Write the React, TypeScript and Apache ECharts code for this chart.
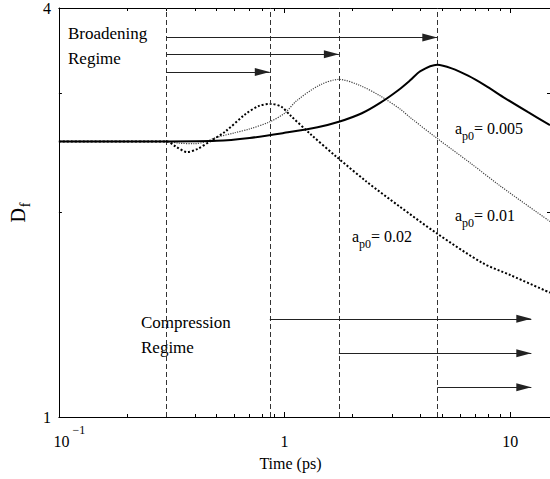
import React, { useEffect, useRef } from 'react';
import * as echarts from 'echarts';

// ---- data ----
const timeA005 = [0.1, 0.3, 0.5, 0.7, 1.0, 1.4, 1.74, 2.2, 2.65, 3.2, 3.6, 4.0, 4.75, 5.5, 6.5, 7.7, 9.5, 12, 15];
const dfA005 = [2.545, 2.545, 2.55, 2.575, 2.62, 2.67, 2.72, 2.8, 2.9, 3.03, 3.13, 3.23, 3.3, 3.26, 3.18, 3.08, 2.945, 2.81, 2.69];

const timeA01 = [0.1, 0.3, 0.34, 0.4, 0.45, 0.5, 0.6, 0.7, 0.86, 1.0, 1.13, 1.43, 1.74, 2.14, 2.65, 3.25, 3.6, 4.75, 6.6, 9.0, 15];
const dfA01 = [2.545, 2.545, 2.53, 2.525, 2.545, 2.58, 2.62, 2.655, 2.72, 2.8, 2.92, 3.08, 3.14, 3.08, 2.97, 2.84, 2.76, 2.57, 2.37, 2.19, 1.94];

const timeA02 = [0.1, 0.3, 0.33, 0.37, 0.41, 0.467, 0.545, 0.67, 0.77, 0.87, 0.97, 1.06, 1.3, 1.7, 2.31, 3.24, 4.72, 7.55, 10, 15];
const dfA02 = [2.545, 2.545, 2.5, 2.455, 2.48, 2.545, 2.63, 2.79, 2.87, 2.89, 2.86, 2.78, 2.61, 2.415, 2.22, 2.04, 1.864, 1.685, 1.618, 1.524];

const markerTimes = [0.3, 0.86, 1.74, 4.75];

const broadeningStart = 0.3;
const broadeningEnds = [4.75, 1.74, 0.86];
const broadeningY = [3.62, 3.42, 3.22];

const compressionStarts = [0.86, 1.74, 4.75];
const compressionEnd = 12.4;
const compressionY = [1.395, 1.241, 1.106];

const seriesLabels = ['a_p0= 0.005', 'a_p0= 0.01', 'a_p0= 0.02'];

const xMin = 0.1;
const xMax = 15;
const yMin = 1;
const yMax = 4;

// ---- styling ----
const serif = 'Liberation Serif';

const zip = (xs: number[], ys: number[]) => xs.map((x, i) => [x, ys[i]]);

const xLabelRich = {
  b: { fontFamily: serif, fontSize: 16, lineHeight: 18, padding: [8, 0, 0, 0], color: '#000' },
  sup: { fontFamily: serif, fontSize: 12, lineHeight: 12, padding: [0, 0, 14, 3], color: '#000' },
  sp: { fontFamily: serif, fontSize: 16, lineHeight: 18, width: 21, padding: [8, 0, 0, 0] },
};

const xFormatter = (v: number) => {
  if (v < 0.5) return '{sp| }{b|10}{sup|−1}';
  if (v < 5) return '{b|1}';
  return '{b|10}';
};

const subRich = {
  a: { fontFamily: serif, fontSize: 16, lineHeight: 16, padding: [0, 0, 8, 0], color: '#000' },
  s: { fontFamily: serif, fontSize: 12, lineHeight: 12, padding: [10, 0, 2, 0], color: '#000' },
  t: { fontFamily: serif, fontSize: 16, lineHeight: 16, padding: [0, 0, 8, 0], color: '#000' },
};

const subText = (s: string) => {
  const m = s.match(/^a_p0(.*)$/);
  return `{a|a}{s|p0}{t|${m ? m[1] : s}}`;
};

const baseX = {
  type: 'log',
  logBase: 10,
  min: xMin,
  max: xMax,
  gridIndex: 0,
  axisLine: { show: true, onZero: false, lineStyle: { color: '#000', width: 1 } },
  axisTick: { show: true, inside: true, length: 5, lineStyle: { color: '#000', width: 1 } },
  minorTick: { show: true, splitNumber: 9, length: 3, lineStyle: { color: '#000', width: 1 } },
  splitLine: { show: false },
  minorSplitLine: { show: false },
};

const baseY = {
  type: 'log',
  logBase: 10,
  min: yMin,
  max: yMax,
  gridIndex: 0,
  axisLine: { show: true, onZero: false, lineStyle: { color: '#000', width: 1 } },
  axisTick: { show: true, inside: true, length: 3, lineStyle: { color: '#000', width: 1 } },
  minorTick: { show: true, splitNumber: 9, length: 3, lineStyle: { color: '#000', width: 1 } },
  splitLine: { show: false },
  minorSplitLine: { show: false },
};

const textEl = (text: string, x: number, y: number) => ({
  type: 'text',
  x,
  y,
  silent: true,
  style: {
    text,
    fontFamily: serif,
    fontSize: 17,
    fill: '#000',
    align: 'left',
    verticalAlign: 'middle',
  },
});

const richEl = (text: string, x: number, y: number) => ({
  type: 'text',
  x,
  y,
  silent: true,
  style: {
    text: subText(text),
    rich: subRich,
    fontFamily: serif,
    fontSize: 16,
    fill: '#000',
    align: 'left',
    verticalAlign: 'top',
  },
});

const arrowEnd = (t: number, y: number) => ({
  coord: [t, y],
  symbol: 'triangle',
  symbolSize: [8, 15],
  symbolOffset: [0, 7.5],
  itemStyle: { color: '#000' },
});

const arrowStart = (t: number, y: number) => ({
  coord: [t, y],
  symbol: 'none',
});

const option = {
  animation: false,
  backgroundColor: '#fff',
  grid: { left: 58, right: 0, top: 5, bottom: 62, containLabel: false },
  xAxis: [
    {
      ...baseX,
      position: 'bottom',
      axisLabel: {
        show: true,
        showMaxLabel: false,
        margin: 11,
        formatter: xFormatter,
        rich: xLabelRich,
        color: '#000',
      },
      name: 'Time (ps)',
      nameLocation: 'middle',
      nameGap: 38,
      nameTextStyle: { fontFamily: serif, fontSize: 16, color: '#000', padding: [0, 28, 0, 0] },
    },
    { ...baseX, position: 'top', axisLabel: { show: false } },
  ],
  yAxis: [
    {
      ...baseY,
      position: 'left',
      axisLabel: {
        show: true,
        margin: 8,
        fontFamily: serif,
        fontSize: 16,
        color: '#000',
        formatter: (v: number) => String(Math.round(v)),
      },
      name: '{d|D}{f|f}',
      nameLocation: 'middle',
      nameRotate: 90,
      nameGap: 25,
      nameTextStyle: {
        rich: {
          d: { fontFamily: serif, fontSize: 20, lineHeight: 22, padding: [0, 0, 4, 0], color: '#000' },
          f: { fontFamily: serif, fontSize: 14, lineHeight: 16, padding: [10, 0, 0, 1], color: '#000' },
        },
      },
    },
    { ...baseY, position: 'right', axisLabel: { show: false } },
  ],
  series: [
    {
      name: seriesLabels[0],
      type: 'line',
      xAxisIndex: 0,
      yAxisIndex: 0,
      data: zip(timeA005, dfA005),
      showSymbol: false,
      symbol: 'none',
      smooth: 0.3,
      lineStyle: { color: '#000', width: 2, type: 'solid' },
      z: 5,
      markLine: {
        silent: true,
        symbol: ['none', 'none'],
        label: { show: false },
        lineStyle: { type: [5, 3], color: '#333', width: 1 },
        emphasis: { disabled: true },
        data: markerTimes.map((t) => ({ xAxis: t })),
      },
    },
    {
      name: seriesLabels[1],
      type: 'line',
      xAxisIndex: 0,
      yAxisIndex: 0,
      data: zip(timeA01, dfA01),
      showSymbol: false,
      symbol: 'none',
      smooth: 0.3,
      lineStyle: { color: '#444', width: 1.2, type: 'dotted' },
      z: 4,
      markLine: {
        silent: true,
        symbol: ['none', 'triangle'],
        symbolSize: 12,
        label: { show: false },
        lineStyle: { type: 'solid', color: '#222', width: 1 },
        itemStyle: { color: '#000' },
        emphasis: { disabled: true },
        data: [
          ...broadeningEnds.map((e, i) => [
            arrowStart(broadeningStart, broadeningY[i]),
            arrowEnd(e, broadeningY[i]),
          ]),
          ...compressionStarts.map((s, i) => [
            arrowStart(s, compressionY[i]),
            arrowEnd(compressionEnd, compressionY[i]),
          ]),
        ],
      },
    },
    {
      name: seriesLabels[2],
      type: 'line',
      xAxisIndex: 0,
      yAxisIndex: 0,
      data: zip(timeA02, dfA02),
      showSymbol: false,
      symbol: 'none',
      smooth: 0.3,
      lineStyle: { color: '#000', width: 2, type: [2, 2] },
      z: 4,
    },
  ],
  graphic: [
    textEl('Broadening', 68, 33),
    textEl('Regime', 68, 58),
    textEl('Compression', 141, 322),
    textEl('Regime', 141, 347),
    richEl(seriesLabels[0], 455, 124),
    richEl(seriesLabels[1], 455, 211),
    richEl(seriesLabels[2], 352, 232),
  ],
};

export default function App() {
  const ref = useRef<HTMLDivElement>(null);
  useEffect(() => {
    if (!ref.current) return;
    const chart = echarts.init(ref.current, null, { renderer: 'svg' });
    chart.setOption(option as any);
    return () => {
      chart.dispose();
    };
  }, []);
  return (
    <div
      ref={ref}
      style={{ position: 'fixed', left: 0, top: 0, width: 550, height: 479, background: '#fff' }}
    />
  );
}
